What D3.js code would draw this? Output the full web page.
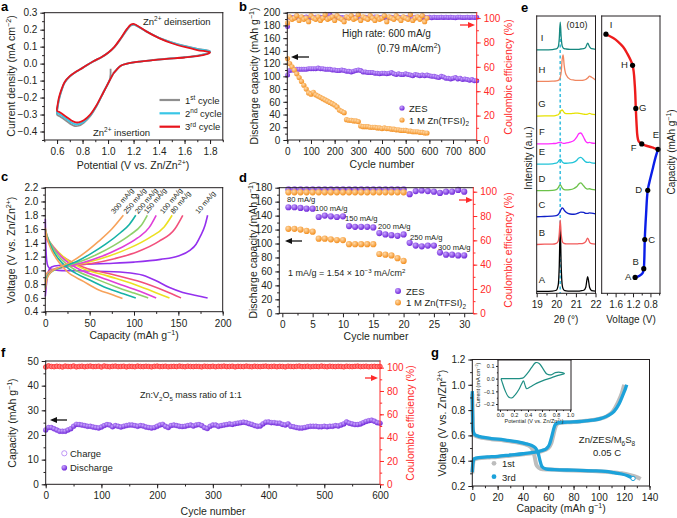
<!DOCTYPE html>
<html><head><meta charset="utf-8">
<script src="https://cdn.jsdelivr.net/npm/d3@7"></script>
<style>
body{margin:0;background:#fff}
svg{display:block;font-family:"Liberation Sans",Arial,Helvetica,sans-serif}
</style></head><body>
<svg id="fig" width="677" height="518"></svg>
<script>
// ================= DATA =================
// Panel a: CV cycles [potential V, current mA/cm2]
const cvCycle1 = [[1.02,-0.03],[1.015,-0.09],[0.963,-0.17],[0.91,-0.25],[0.86,-0.31],[0.81,-0.348],[0.77,-0.366],[0.74,-0.368],[0.715,-0.36],[0.663,-0.332],[0.624,-0.312],[0.6,-0.3],[0.605,-0.26],[0.615,-0.215],[0.635,-0.16],[0.66,-0.112],[0.7,-0.076],[0.75,-0.048],[0.8,-0.026],[0.885,0.013],[0.95,0.038],[1.0,0.063],[1.05,0.097],[1.1,0.146],[1.15,0.2],[1.18,0.224],[1.2,0.228],[1.23,0.22],[1.3,0.19],[1.4,0.152],[1.5,0.125],[1.6,0.104],[1.7,0.087],[1.8,0.072],[1.79,0.064],[1.72,0.05],[1.6,0.038],[1.46,0.029],[1.35,0.021],[1.25,0.012],[1.15,0.0],[1.1,-0.012],[1.068,-0.035],[1.04,-0.058]];
const cvCycle2 = [[1.04,-0.06],[1.015,-0.095],[0.963,-0.17],[0.91,-0.248],[0.86,-0.305],[0.81,-0.342],[0.77,-0.356],[0.74,-0.356],[0.715,-0.348],[0.663,-0.32],[0.624,-0.3],[0.6,-0.29],[0.605,-0.25],[0.615,-0.21],[0.635,-0.157],[0.66,-0.11],[0.7,-0.075],[0.75,-0.048],[0.8,-0.025],[0.885,0.014],[0.95,0.039],[1.0,0.064],[1.05,0.098],[1.1,0.148],[1.15,0.203],[1.18,0.227],[1.2,0.231],[1.23,0.221],[1.3,0.19],[1.4,0.152],[1.5,0.124],[1.6,0.103],[1.7,0.086],[1.8,0.07],[1.79,0.063],[1.72,0.049],[1.6,0.037],[1.46,0.028],[1.35,0.02],[1.25,0.012],[1.15,0.0],[1.1,-0.012],[1.068,-0.035],[1.04,-0.06]];
const cvCycle3 = [[1.04,-0.06],[1.015,-0.095],[0.963,-0.17],[0.91,-0.245],[0.86,-0.3],[0.81,-0.333],[0.77,-0.346],[0.74,-0.345],[0.715,-0.336],[0.663,-0.308],[0.624,-0.288],[0.6,-0.278],[0.605,-0.24],[0.615,-0.2],[0.635,-0.152],[0.66,-0.108],[0.7,-0.074],[0.75,-0.047],[0.8,-0.025],[0.885,0.014],[0.95,0.039],[1.0,0.064],[1.05,0.099],[1.1,0.15],[1.15,0.206],[1.18,0.23],[1.2,0.234],[1.23,0.223],[1.3,0.19],[1.4,0.15],[1.5,0.12],[1.6,0.098],[1.7,0.08],[1.8,0.066],[1.79,0.06],[1.72,0.047],[1.6,0.036],[1.46,0.028],[1.35,0.02],[1.25,0.012],[1.15,0.0],[1.1,-0.012],[1.068,-0.035],[1.04,-0.06]];
const cvLabels = ['1st cycle','2nd cycle','3rd cycle'];

// Panel b: long cycling at 600 mA/g
const bZesCycles = [1].concat(d3.range(10, 801, 10));
const bZesCap = [102,109,110,110,111,111,111,111,111,112, 112,112,112,113,112,112,111,111,111,110, 110,109,109,110,109,108,108,107,108,109, 110,109,107,107,106,106,106,105,105,104, 105,105,104,105,106,104,103,104,103,103, 104,103,102,101,103,102,101,102,101,102, 101,100,100,99,98,100,99,97,97,96, 97,98,96,97,95,96,95,94,95,93, 93];
const bZesCE = [93,100.6,100.4,100.7,100.5,100.3,100.6,100.5,100.8,100.4, 100.6,100.5,100.7,100.3,100.6,100.5,100.4,100.6,102.8,100.5, 100.7,100.4,100.6,100.5,100.3,100.6,100.7,100.5,100.4,100.6, 100.5,100.7,100.3,100.6,100.5,100.4,100.6,100.8,100.5,100.4, 100.6,100.5,100.7,100.3,100.6,100.5,100.4,100.6,100.5,100.7, 100.4,100.6,100.5,100.3,100.6,100.7,100.5,100.4,100.6,100.5, 100.7,100.3,100.6,100.5,100.4,100.6,100.5,100.7,100.4,100.6, 100.5,100.3,100.6,100.7,100.5,100.4,100.6,100.5,100.7,100.4, 100.6];
const bTfsiCycles = [1].concat(d3.range(10, 591, 10));
const bTfsiCap = [128,120,115,110,104,98,92,86,80,74, 72,75,71,69,67,65,63,61,59,57, 55,52,47,45,43,32,31,31,30,30, 29,22,21,21,21,20,20,20,19,19, 18,19,18,18,17,17,16,16,15,15, 15,14,14,13,13,13,12,12,11,11];
const bTfsiCE = [96,101,99,100,102,98,101,99,100,97, 102,100,99,101,98,100,103,99,100,101, 98,102,100,99,97,101,100,102,99,100, 103,98,101,100,99,102,100,98,101,99, 100,102,97,101,100,99,102,100,98,101, 100,99,103,98,100,101,99,102,97,100];

// Panel c: rate charge/discharge curves [capacity, voltage]
const cRates = ['10 mA/g','80 mA/g','100 mA/g','150 mA/g','200 mA/g','250 mA/g','300 mA/g'];
const cCharge = [
 [[0,0.62],[1,0.76],[2,0.88],[4,1.0],[7,1.05],[15,1.07],[40,1.085],[70,1.1],[100,1.12],[130,1.16],[150,1.21],[163,1.29],[170,1.38],[175,1.5],[180,1.65],[183,1.8]],
 [[0,0.85],[2,0.96],[10,1.02],[28,1.06],[52,1.1],[78,1.17],[104,1.27],[128,1.42],[146,1.6],[155,1.8]],
 [[0,0.83],[2,0.95],[9,1.01],[25,1.06],[48,1.12],[72,1.21],[96,1.33],[118,1.48],[134,1.63],[143,1.8]],
 [[0,0.8],[2,0.93],[8,1.0],[22,1.05],[42,1.11],[63,1.2],[84,1.32],[104,1.47],[117,1.62],[125,1.8]],
 [[0,0.78],[2,0.92],[8,0.99],[20,1.05],[38,1.12],[58,1.23],[77,1.36],[96,1.52],[108,1.65],[115,1.8]],
 [[0,0.75],[2,0.9],[7,0.98],[17,1.04],[34,1.12],[51,1.24],[68,1.38],[85,1.55],[95,1.67],[102,1.8]],
 [[0,0.72],[2,0.88],[6,0.97],[15,1.04],[30,1.13],[45,1.26],[60,1.42],[75,1.6],[88,1.8]]
];
const cDischarge = [
 [[0,1.75],[0.5,1.4],[1.5,1.15],[3,1.06],[6,1.02],[15,1.0],[50,0.99],[90,0.97],[110,0.93],[125,0.85],[140,0.75],[155,0.68],[170,0.635],[183,0.6]],
 [[0,1.5],[3,1.42],[11,1.3],[22,1.18],[44,1.04],[76,0.94],[108,0.83],[135,0.7],[153,0.6]],
 [[0,1.52],[3,1.45],[10,1.33],[20,1.2],[40,1.04],[70,0.92],[100,0.8],[124,0.68],[140,0.6]],
 [[0,1.55],[2,1.48],[9,1.34],[18,1.2],[36,1.03],[62,0.9],[88,0.78],[110,0.68],[125,0.6]],
 [[0,1.58],[2,1.5],[8,1.34],[16,1.19],[32,1.02],[56,0.88],[80,0.76],[100,0.67],[116,0.6]],
 [[0,1.6],[2,1.5],[7,1.33],[14,1.18],[28,1.01],[50,0.86],[70,0.74],[88,0.66],[102,0.6]],
 [[0,1.62],[2,1.48],[6,1.32],[12,1.18],[24,0.99],[43,0.84],[61,0.71],[75,0.65],[87,0.59]]
];

// Panel d: rate capability
const dZesCycles = d3.range(1, 31);
const dZesCap = [152,152,151,150,150,138,140,139,138,139,125,124,124,124,123,115,113,112,111,113,101,97,96,97,97,87,84,84,83,83];
const dZesCE = [102,102,102,102,102,102,102,102,102,102,102,102,102,102,102,102,102,102,102,102,98,100.5,101,100.5,100,99,100,100,101.5,100];
const dTfsiCycles = d3.range(1, 21);
const dTfsiCap = [121,121,120,118,117,107,107,106,105,105,99,99,99,99,99,85,84,83,79,75];
const dTfsiCE = [99.5,99.5,99.5,99.5,99.5,99.5,99.5,99.5,99.5,99.5,99.5,99.5,99.5,99.5,99.5,99.5,99.5,99.5,99.5,99.5];
const dRateLabels = ['80 mA/g','100 mA/g','150 mA/g','200 mA/g','250 mA/g','300 mA/g'];

// Panel e: in-situ XRD patterns (2theta grid, intensities, stacking offsets)
const xrdTheta = [19.0,19.4,19.8,20.0,20.1,20.15,20.2,20.25,20.3,20.35,20.4,20.5,20.7,20.9,21.05,21.15,21.25,21.4,21.5,21.6,21.7,21.8,22.0];
const xrdLabels = ['A','B','C','D','E','F','G','H','I'];
const xrdOffsets = [0.6,17.4,27.6,36.9,46.5,53.8,63.9,76.3,87.7];
const xrdIntensity = [
 [0.1,0.1,0.2,0.5,2.5,9,23,9,2.5,1.0,0.5,0.3,0.2,0.2,0.2,0.2,0.3,0.5,1.5,5.4,1.5,0.4,0.2],
 [0.2,0.3,0.3,0.6,1.5,4.0,9.0,4.0,1.5,0.8,0.6,0.4,0.4,0.4,0.4,0.5,0.5,0.7,1.2,2.5,1.0,0.5,0.3],
 [0.0,0.1,0.2,0.4,0.8,1.3,2.0,2.7,3.2,3.0,2.4,1.6,1.0,0.9,1.1,1.4,1.7,1.6,1.2,1.2,1.4,1.3,1.0],
 [0.1,0.1,0.2,0.5,1.2,1.8,2.2,1.8,1.1,0.7,0.5,0.4,0.5,0.9,1.6,2.5,2.9,1.8,1.0,0.7,0.8,0.6,0.4],
 [0.1,0.1,0.2,0.4,1.0,1.5,1.8,1.5,0.9,0.6,0.4,0.4,0.5,0.8,1.5,2.3,2.5,1.6,0.9,0.7,0.8,0.5,0.4],
 [0.1,0.1,0.2,0.3,0.5,0.6,0.7,0.6,0.4,0.3,0.3,0.4,0.7,1.3,2.6,3.8,4.0,2.4,1.0,0.5,0.6,0.4,0.3],
 [0.0,0.1,0.1,0.3,0.5,0.9,1.5,2.0,2.2,1.8,1.3,0.9,0.9,1.0,1.1,1.0,0.9,0.7,0.6,0.7,1.0,0.7,0.5],
 [0.1,0.1,0.2,0.3,0.5,0.8,1.5,3.5,8.0,9.7,6.0,2.5,0.9,0.6,0.5,0.5,0.5,0.6,0.8,1.3,2.0,1.6,0.6],
 [0.1,0.1,0.2,0.4,1.2,4.0,10.1,4.5,1.5,0.8,0.5,0.4,0.3,0.3,0.3,0.3,0.4,0.5,1.0,2.5,1.2,0.5,0.3]
];
// Panel e right: voltage profile [V, capacity]
const eCharge = [[1.152,3],[1.05,5],[0.98,8],[0.953,13],[0.94,25],[0.93,46],[0.9,75],[0.862,102],[0.8,116],[0.74,128],[0.68,140],[0.626,148.6]];
const eDischarge = [[0.626,148.6],[0.72,150],[0.816,151.5],[0.92,153],[0.999,154.7],[1.07,157.5],[1.1,164],[1.115,174],[1.136,195],[1.159,221],[1.211,244],[1.34,258],[1.43,265],[1.547,271],[1.655,275],[1.822,279.3]];
const ePoints = [[1.152,3],[0.953,13],[0.93,46],[0.862,102],[0.626,148.6],[0.999,154.7],[1.136,195],[1.211,244],[1.822,279.3]];

// Panel f: full cell cycling
const fCycles = d3.range(0, 601, 5);
const fDischargeCap = [22,23,23,22.5,22,21.5,21.5,21.5,22,22.5, 23.5,24.3,24.2,24,23.8,23.5,23.5,23.2,23,22.8, 23.2,23.8,24.2,24,23.3,23.8,23.5,23.2,23.5,23.8, 24,24,23.8,23.5,23.8,23.6,23.2,23,22.8,23, 23.5,24,24.3,23.5,23,23.8,24,23.8,23.5,23.4, 23.5,23.8,24,23.6,24,24.2,23.8,23,22.6,23.5, 24,24,23.5,23.8,24,24.2,24.5,24.3,24.6,24.8, 25,25.2,25,24.6,24.3,23.8,23.5,23.6,24.5,25.2, 25.3,25,25,24.8,24.8,24.3,24,24.5,23.5,23.3, 23,22.8,22.8,23,23.3,23.5,23.5,23.5,23.3,23.3, 23.5,23.3,23.5,23.5,23.8,23.6,24,24.5,25.3,24.8, 24.5,24.2,24.2,24.5,25,25.5,25.8,26,25.6,25, 24.8];
const fChargeCap = fDischargeCap;
const fCE = [100.5,101.5,101,100.8,101.2,101,100.6,101.3,101,100.9, 101.4,100.7,101,101.2,100.8,101.1,101.3,100.9,101,101.2, 100.6,101.4,101,100.8,101.1,101.3,100.9,101,101.2,100.7, 101.1,101,100.8,101.3,101,100.9,101.2,101,100.7,101.1, 101.3,100.9,101,101.2,100.8,101,101.1,100.9,101.3,101, 100.8,101.2,101,100.9,101.1,101,100.7,101.2,101,100.9, 101.2,100.8,101.1,101,101.3,100.9,101,101.2,100.7,101.1, 101,100.9,101.3,101,100.8,101.2,101,100.9,101.1,101.3, 100.9,101,101.2,100.8,101.1,101,100.7,101.2,101,100.9, 101.1,101.3,100.9,101,101.2,100.8,101,101.1,100.9,101.3, 101,100.8,101.2,101,100.9,101.1,101,100.7,101.2,101, 100.9,101.1,101.3,100.9,101,101.2,100.8,101,101.1,100.9, 101];

// Panel g: Zn/ZES/M6S8 profiles [capacity, V]
const g1Charge = [[0,0.3],[0.5,0.37],[1.5,0.41],[5,0.42],[12,0.425],[20,0.43],[30,0.44],[40,0.45],[48,0.46],[55,0.475],[60,0.5],[62.5,0.54],[64,0.6],[65.5,0.66],[67,0.69],[70,0.7],[80,0.705],[90,0.715],[100,0.73],[106,0.75],[111,0.79],[115,0.86],[118,0.93],[120,1.0]];
const g1Discharge = [[0,0.93],[0.3,0.74],[0.8,0.625],[2,0.6],[6,0.585],[15,0.57],[25,0.56],[35,0.545],[42,0.53],[46,0.51],[48,0.48],[49.5,0.42],[51,0.36],[54,0.335],[62,0.33],[80,0.322],[95,0.318],[108,0.31],[118,0.3],[125,0.285],[130,0.27],[133,0.255]];
const g3Charge = [[0,0.31],[0.5,0.38],[1.5,0.415],[5,0.425],[12,0.43],[20,0.435],[30,0.445],[40,0.455],[48,0.465],[55,0.48],[59,0.5],[61,0.53],[62.5,0.58],[64,0.64],[65.5,0.685],[68,0.7],[75,0.705],[85,0.71],[95,0.72],[102,0.735],[108,0.76],[112,0.79],[116,0.85],[119,0.92],[121,0.97],[122,1.0]];
const g3Discharge = [[0,0.95],[0.3,0.75],[0.8,0.63],[2,0.605],[6,0.59],[15,0.575],[25,0.565],[35,0.55],[42,0.535],[47,0.52],[50,0.5],[52,0.46],[53.5,0.4],[55,0.355],[58,0.335],[65,0.33],[80,0.325],[95,0.32],[105,0.315],[112,0.305],[118,0.295],[123,0.28],[127,0.26]];
const gInsetCV = [[0.014,0],[0.1,0],[0.21,0.0],[0.3,0.002],[0.34,0.01],[0.4,0.047],[0.45,0.087],[0.51,0.126],[0.56,0.12],[0.62,0.073],[0.67,0.036],[0.73,0.03],[0.79,0.047],[0.86,0.05],[0.92,0.039],[0.83,0.026],[0.74,0.008],[0.64,-0.01],[0.52,-0.037],[0.43,-0.066],[0.38,-0.079],[0.36,-0.055],[0.335,-0.018],[0.31,-0.04],[0.27,-0.085],[0.22,-0.125],[0.17,-0.152],[0.12,-0.142],[0.07,-0.09],[0.03,-0.025],[0.014,0]];

// ================= DRAWING =================
const svg = d3.select('#fig');
const TXT = '#231f20';
const RED = '#ff2a2a';
const defs = svg.append('defs');
function ball(id, light, dark) {
  const rg = defs.append('radialGradient').attr('id', id).attr('cx', '38%').attr('cy', '35%').attr('r', '70%');
  rg.append('stop').attr('offset', '0%').attr('stop-color', light);
  rg.append('stop').attr('offset', '100%').attr('stop-color', dark);
}
ball('gPurple', '#c9a6ff', '#6a1fd6');
ball('gOrange', '#ffd9a8', '#f28a16');

function addAxis(g, scale, orient, at, major, minor, opt = {}) {
  const color = opt.color || TXT, fs = opt.fs || 10, size = opt.size ?? 4, pad = opt.pad ?? 3;
  const fmt = opt.fmt || (d => d);
  const mk = orient === 'bottom' ? d3.axisBottom : orient === 'left' ? d3.axisLeft : d3.axisRight;
  const tr = orient === 'bottom' ? `translate(0,${at})` : `translate(${at},0)`;
  if (minor && minor.length) {
    const m = g.append('g').attr('transform', tr)
      .call(mk(scale).tickValues(minor).tickSize(size * 0.55).tickSizeOuter(0).tickFormat(''));
    m.select('.domain').remove();
    m.selectAll('line').attr('stroke', color);
    m.selectAll('text').remove();
  }
  const a = g.append('g').attr('transform', tr)
    .call(mk(scale).tickValues(major).tickSize(size).tickSizeOuter(0).tickPadding(pad).tickFormat(fmt));
  a.attr('font-family', null).attr('font-size', null);
  a.select('.domain').remove();
  a.selectAll('line').attr('stroke', color);
  a.selectAll('text').attr('fill', color).style('font-size', fs + 'px');
  return a;
}
function frame(g, xs, ys, rightColor) {
  const [x0, x1] = xs.range(), [y0, y1] = ys.range();
  const L = (a, b, c, d, col) => g.append('line').attr('x1', a).attr('y1', b).attr('x2', c).attr('y2', d)
    .attr('stroke', col).attr('stroke-width', 1).attr('stroke-linecap', 'square');
  L(x0, y0, x1, y0, TXT); L(x0, y1, x1, y1, TXT); L(x0, y0, x0, y1, TXT); L(x1, y0, x1, y1, rightColor || TXT);
}
function rich(parent, x, y, parts, opt = {}) {
  const fs = opt.size || 10;
  const t = parent.append('text').attr('x', x).attr('y', y)
    .attr('font-size', fs).attr('text-anchor', opt.anchor || 'start').attr('fill', opt.color || TXT);
  if (opt.rotate) t.attr('transform', `rotate(${opt.rotate},${x},${y})`);
  let cur = 0;
  parts.forEach(p => {
    const [s, kind] = Array.isArray(p) ? p : [p, 'n'];
    const target = kind === 'sup' ? -0.38 * fs : kind === 'sub' ? 0.28 * fs : 0;
    const ts = t.append('tspan').text(s).attr('dy', target - cur);
    if (kind !== 'n') ts.attr('font-size', fs * 0.68);
    cur = target;
  });
  return t;
}
function arrow(g, x1, x2, y, color) {
  const dir = Math.sign(x2 - x1);
  g.append('line').attr('x1', x1).attr('x2', x2 - dir * 5).attr('y1', y).attr('y2', y)
    .attr('stroke', color).attr('stroke-width', 1.3);
  g.append('path').attr('d', `M${x2},${y}L${x2 - dir * 7},${y - 3}L${x2 - dir * 7},${y + 3}Z`).attr('fill', color);
}
function label(txt, x, y) {
  svg.append('text').attr('x', x).attr('y', y).attr('font-size', 13).attr('font-weight', 'bold').attr('fill', '#000').text(txt);
}
const f1 = d3.format('.1f');
const range = (a, b, s) => d3.range(a, b + s / 2, s).map(v => +v.toFixed(4));

// ---------- Panel a ----------
{
  const g = svg.append('g');
  const x = d3.scaleLinear().domain([0.5, 1.9]).range([44.3, 222.8]);
  const y = d3.scaleLinear().domain([-0.45, 0.3]).range([140, 12.7]);
  const line = d3.line().x(d => x(d[0])).y(d => y(d[1])).curve(d3.curveCatmullRom.alpha(0.5));
  const cols = ['#8f8f8f', '#39c6e6', '#e8141c'];
  [cvCycle1, cvCycle2, cvCycle3].forEach((c, i) =>
    g.append('path').attr('d', line(c)).attr('fill', 'none').attr('stroke', cols[i]).attr('stroke-width', 1.8));
  frame(g, x, y);
  addAxis(g, x, 'bottom', 140, range(0.6, 1.8, 0.2), range(0.5, 1.9, 0.1), { fmt: f1, pad: 4 });
  addAxis(g, y, 'left', 44.3, range(-0.4, 0.3, 0.1), range(-0.45, 0.3, 0.05), { fmt: f1 });
  rich(g, 15, 76, ['Current density (mA cm', ['−2', 'sup'], ')'], { anchor: 'middle', rotate: -90, size: 10.5 });
  rich(g, 133, 169, ['Potential (V vs. Zn/Zn', ['2+', 'sup'], ')'], { anchor: 'middle', size: 10.5 });
  rich(g, 143, 25, ['Zn', ['2+', 'sup'], ' deinsertion'], { size: 9.5 });
  rich(g, 93, 136, ['Zn', ['2+', 'sup'], ' insertion'], { size: 9.5 });
  const sups = [['1', 'st'], ['2', 'nd'], ['3', 'rd']];
  [100, 113.3, 126.7].forEach((yy, i) => {
    g.append('line').attr('x1', 159.5).attr('x2', 180).attr('y1', yy).attr('y2', yy).attr('stroke', cols[i]).attr('stroke-width', 2.2);
    rich(g, 185, yy + 3.5, [sups[i][0], [sups[i][1], 'sup'], ' cycle'], { size: 9.5 });
  });
  label('a', 1, 11);
}

// ---------- Panel b ----------
{
  const g = svg.append('g');
  const x = d3.scaleLinear().domain([0, 800]).range([287.3, 476.7]);
  const y = d3.scaleLinear().domain([0, 200]).range([140, 12.7]);
  const y2 = d3.scaleLinear().domain([0, 104.4]).range([140, 12.7]);
  const dots = (xs, ys, sc, fill, r) => xs.forEach((c, i) =>
    g.append('circle').attr('cx', x(c)).attr('cy', sc(ys[i])).attr('r', r).attr('fill', fill));
  dots(bZesCycles, bZesCap, y, 'url(#gPurple)', 2.5);
  dots(bZesCycles, bZesCE, y2, 'url(#gPurple)', 2.5);
  dots(bTfsiCycles, bTfsiCap, y, 'url(#gOrange)', 2.6);
  dots(bTfsiCycles, bTfsiCE, y2, 'url(#gOrange)', 2.6);
  frame(g, x, y, RED);
  addAxis(g, x, 'bottom', 140, range(0, 800, 100), range(0, 800, 50), { pad: 4 });
  addAxis(g, y, 'left', 287.3, range(0, 200, 20), range(0, 200, 10));
  addAxis(g, y2, 'right', 476.7, range(0, 100, 20), range(0, 100, 10), { color: RED });
  rich(g, 258, 76, ['Discharge capacity (mAh g', ['−1', 'sup'], ')'], { anchor: 'middle', rotate: -90, size: 10.5 });
  rich(g, 512, 77, ['Coulombic efficiency (%)'], { anchor: 'middle', rotate: -90, size: 10.5, color: RED });
  rich(g, 382, 168, ['Cycle number'], { anchor: 'middle', size: 10.5 });
  rich(g, 342, 37, ['High rate: 600 mA/g'], { size: 10 });
  rich(g, 377, 52, ['(0.79 mA/cm', ['2', 'sup'], ')'], { size: 10 });
  arrow(g, 309, 291, 57, '#111');
  arrow(g, 460, 475, 25, RED);
  g.append('circle').attr('cx', 402).attr('cy', 108).attr('r', 2.6).attr('fill', 'url(#gPurple)');
  g.append('circle').attr('cx', 402).attr('cy', 120).attr('r', 2.6).attr('fill', 'url(#gOrange)');
  rich(g, 409, 111.5, ['ZES'], { size: 9.5 });
  rich(g, 409, 123.5, ['1 M Zn(TFSI)', ['2', 'sub']], { size: 9.5 });
  label('b', 239, 11);
}

// ---------- Panel c ----------
{
  const g = svg.append('g');
  const x = d3.scaleLinear().domain([0, 200]).range([45.3, 222.7]);
  const y = d3.scaleLinear().domain([0.4, 2.2]).range([311.7, 187.7]);
  const cols = ['#9430ee', '#f2507c', '#ece021', '#e03fd8', '#8fd06a', '#16b2a6', '#f7a25a'];
  const line = d3.line().x(d => x(d[0])).y(d => y(d[1])).curve(d3.curveMonotoneX);
  cRates.forEach((r, i) => {
    g.append('path').attr('d', line(cDischarge[i])).attr('fill', 'none').attr('stroke', cols[i]).attr('stroke-width', 1.6);
    g.append('path').attr('d', line(cCharge[i])).attr('fill', 'none').attr('stroke', cols[i]).attr('stroke-width', 1.6);
    const end = cCharge[i][cCharge[i].length - 1];
    const lx = x(end[0]) - 9, ly = y(end[1]) - 1;
    g.append('text').attr('x', lx).attr('y', ly).attr('font-size', 7.2).attr('fill', TXT)
      .attr('transform', `rotate(-50,${lx},${ly})`).text(r);
  });
  frame(g, x, y);
  addAxis(g, x, 'bottom', 311.7, range(0, 200, 50), range(0, 200, 25), { pad: 4 });
  addAxis(g, y, 'left', 45.3, range(0.4, 2.2, 0.2), range(0.4, 2.2, 0.1), { fmt: f1 });
  rich(g, 15, 250, ['Voltage (V vs. Zn/Zn', ['2+', 'sup'], ')'], { anchor: 'middle', rotate: -90, size: 10.5 });
  rich(g, 134, 339, ['Capacity (mAh g', ['−1', 'sup'], ')'], { anchor: 'middle', size: 10.5 });
  label('c', 1, 181);
}

// ---------- Panel d ----------
{
  const g = svg.append('g');
  const x = d3.scaleLinear().domain([-0.5, 31.5]).range([279.3, 473.3]);
  const y = d3.scaleLinear().domain([0, 180]).range([313.3, 187.7]);
  const y2 = d3.scaleLinear().domain([0, 103.3]).range([313.3, 187.7]);
  const dots = (xs, ys, sc, fill) => xs.forEach((c, i) =>
    g.append('circle').attr('cx', x(c)).attr('cy', sc(ys[i])).attr('r', 3.1).attr('fill', fill));
  dots(dZesCycles, dZesCap, y, 'url(#gPurple)');
  dots(dZesCycles, dZesCE, y2, 'url(#gPurple)');
  dots(dTfsiCycles, dTfsiCap, y, 'url(#gOrange)');
  dots(dTfsiCycles, dTfsiCE, y2, 'url(#gOrange)');
  frame(g, x, y, RED);
  addAxis(g, x, 'bottom', 313.3, range(0, 30, 5), range(2.5, 30, 5), { pad: 4 });
  addAxis(g, y, 'left', 279.3, range(0, 180, 20), range(0, 180, 10));
  addAxis(g, y2, 'right', 473.3, range(0, 100, 20), range(0, 100, 10), { color: RED });
  rich(g, 257, 250, ['Discharge capacity (mAh g', ['−1', 'sup'], ')'], { anchor: 'middle', rotate: -90, size: 10.5 });
  rich(g, 512, 250, ['Coulombic efficiency (%)'], { anchor: 'middle', rotate: -90, size: 10.5, color: RED });
  rich(g, 376, 340, ['Cycle number'], { anchor: 'middle', size: 10.5 });
  const lp = [[287, 202], [315, 211], [345, 221], [378, 229], [410, 240], [438, 250]];
  dRateLabels.forEach((t, i) => rich(g, lp[i][0], lp[i][1], [t], { size: 7.6 }));
  rich(g, 288, 276, ['1 mA/g = 1.54 × 10', ['−3', 'sup'], ' mA/cm', ['2', 'sup']], { size: 9 });
  arrow(g, 302, 285, 241, '#111');
  arrow(g, 459, 473, 200, RED);
  g.append('circle').attr('cx', 398).attr('cy', 291).attr('r', 3).attr('fill', 'url(#gPurple)');
  g.append('circle').attr('cx', 398).attr('cy', 302.5).attr('r', 3).attr('fill', 'url(#gOrange)');
  rich(g, 406, 294.5, ['ZES'], { size: 9.5 });
  rich(g, 406, 306, ['1 M Zn(TFSI)', ['2', 'sub']], { size: 9.5 });
  label('d', 239, 182);
}

// ---------- Panel e ----------
{
  const g = svg.append('g');
  const x = d3.scaleLinear().domain([19, 22]).range([536.7, 595.5]);
  const y = d3.scaleLinear().domain([0, 100]).range([293.3, 16]);
  const cols = ['#000000', '#f25a5a', '#1020c8', '#6cc24a', '#22c4d8', '#ff2cff', '#e6e200', '#f08660', '#15887f'];
  g.append('line').attr('x1', x(20.2)).attr('x2', x(20.2)).attr('y1', 28).attr('y2', 293)
    .attr('stroke', '#3fc0e0').attr('stroke-width', 1.6).attr('stroke-dasharray', '3,2.5');
  xrdIntensity.forEach((arr, i) => {
    const pts = xrdTheta.map((t, j) => [t, arr[j] + xrdOffsets[i]]);
    const line = d3.line().x(d => x(d[0])).y(d => y(d[1])).curve(d3.curveMonotoneX);
    g.append('path').attr('d', line(pts)).attr('fill', 'none').attr('stroke', cols[i]).attr('stroke-width', 1.3);
    g.append('text').attr('x', 542).attr('y', y(xrdOffsets[i]) - 9).attr('text-anchor', 'middle')
      .attr('font-size', 9.5).attr('fill', TXT).text(xrdLabels[i]);
  });
  frame(g, x, y);
  addAxis(g, x, 'bottom', 293.3, [19, 20, 21, 22], [19.5, 20.5, 21.5], { pad: 4 });
  rich(g, 577, 28, ['(010)'], { size: 9, anchor: 'middle' });
  rich(g, 532, 158, ['Intensity (a.u.)'], { anchor: 'middle', rotate: -90, size: 10 });
  rich(g, 566, 323, ['2θ (°)'], { anchor: 'middle', size: 10 });

  const x2 = d3.scaleLinear().domain([1.92, 0.58]).range([601.7, 660]);
  const yc = d3.scaleLinear().domain([-15, 300]).range([293.3, 16]);
  const line2 = d3.line().x(d => x2(d[0])).y(d => yc(d[1])).curve(d3.curveCatmullRom.alpha(0.5));
  g.append('path').attr('d', line2(eCharge)).attr('fill', 'none').attr('stroke', '#0a1ee8').attr('stroke-width', 2.4);
  g.append('path').attr('d', line2(eDischarge)).attr('fill', 'none').attr('stroke', '#ee1c1c').attr('stroke-width', 2.4);
  const loff = [[-7, 3], [-8, -4], [7, 3], [-9, 3], [-2, -11], [-8, 7], [7, 3], [-8, 3], [5, -6]];
  ePoints.forEach((p, i) => {
    g.append('circle').attr('cx', x2(p[0])).attr('cy', yc(p[1])).attr('r', 2.6).attr('fill', '#000');
    g.append('text').attr('x', x2(p[0]) + loff[i][0]).attr('y', yc(p[1]) + loff[i][1]).attr('text-anchor', 'middle')
      .attr('font-size', 9.5).attr('fill', TXT).text(xrdLabels[i]);
  });
  frame(g, x2, yc);
  addAxis(g, x2, 'bottom', 293.3, [1.6, 1.2, 0.8], [1.8, 1.4, 1.0, 0.6], { pad: 4, fmt: f1 });
  rich(g, 631, 323, ['Voltage (V)'], { anchor: 'middle', size: 10 });
  rich(g, 675, 152, ['Capacity (mAh g', ['−1', 'sup'], ')'], { anchor: 'middle', rotate: -90, size: 10 });
  label('e', 521, 12);
}

// ---------- Panel f ----------
{
  const g = svg.append('g');
  const x = d3.scaleLinear().domain([0, 600]).range([45.7, 380]);
  const y = d3.scaleLinear().domain([0, 50]).range([484.3, 361]);
  const y2 = d3.scaleLinear().domain([0, 105.7]).range([484.3, 361]);
  fCycles.forEach((c, i) => g.append('circle').attr('cx', x(c)).attr('cy', y2(fCE[i])).attr('r', 2.3)
    .attr('fill', '#ff7a7a').attr('stroke', RED).attr('stroke-width', 0.8));
  fCycles.forEach((c, i) => g.append('circle').attr('cx', x(c)).attr('cy', y(fChargeCap[i])).attr('r', 2.4)
    .attr('fill', '#fff').attr('stroke', '#b88af5').attr('stroke-width', 0.8));
  fCycles.forEach((c, i) => g.append('circle').attr('cx', x(c)).attr('cy', y(fDischargeCap[i])).attr('r', 2.5)
    .attr('fill', 'url(#gPurple)'));
  frame(g, x, y, RED);
  addAxis(g, x, 'bottom', 484.3, range(0, 600, 100), range(0, 600, 50), { pad: 4 });
  addAxis(g, y, 'left', 45.7, range(0, 50, 10), range(0, 50, 5));
  addAxis(g, y2, 'right', 380, range(0, 100, 20), range(0, 100, 10), { color: RED });
  rich(g, 16, 423, ['Capacity (mAh g', ['−1', 'sup'], ')'], { anchor: 'middle', rotate: -90, size: 10.5 });
  rich(g, 414, 423, ['Coulombic efficiency (%)'], { anchor: 'middle', rotate: -90, size: 10.5, color: RED });
  rich(g, 213, 515, ['Cycle number'], { anchor: 'middle', size: 10.5 });
  rich(g, 140, 398, ['Zn:V', ['2', 'sub'], 'O', ['5', 'sub'], ' mass ratio of 1:1'], { size: 9 });
  arrow(g, 67, 50, 420, '#111');
  arrow(g, 365, 378, 378, RED);
  g.append('circle').attr('cx', 64.3).attr('cy', 453.3).attr('r', 2.6).attr('fill', '#fff').attr('stroke', '#b88af5').attr('stroke-width', 0.9);
  g.append('circle').attr('cx', 64.3).attr('cy', 467.7).attr('r', 2.8).attr('fill', 'url(#gPurple)');
  rich(g, 70, 457, ['Charge'], { size: 9.5 });
  rich(g, 70, 471, ['Discharge'], { size: 9.5 });
  label('f', 1, 357);
}

// ---------- Panel g ----------
{
  const g = svg.append('g');
  const x = d3.scaleLinear().domain([0, 140]).range([472.3, 649.5]);
  const y = d3.scaleLinear().domain([0.2, 1.2]).range([486, 359.5]);
  const line = d3.line().x(d => x(d[0])).y(d => y(d[1])).curve(d3.curveMonotoneX);
  const lineC = d3.line().x(d => x(d[0])).y(d => y(d[1])).curve(d3.curveCatmullRom.alpha(0.5));
  const GRAY = '#bdbdbd', BLUE = '#1ca2da';
  g.append('path').attr('d', line(g1Charge)).attr('fill', 'none').attr('stroke', GRAY).attr('stroke-width', 4);
  g.append('path').attr('d', lineC(g1Discharge)).attr('fill', 'none').attr('stroke', GRAY).attr('stroke-width', 4);
  g.append('path').attr('d', line(g3Charge)).attr('fill', 'none').attr('stroke', BLUE).attr('stroke-width', 3.3);
  g.append('path').attr('d', lineC(g3Discharge)).attr('fill', 'none').attr('stroke', BLUE).attr('stroke-width', 3.3);
  const e3 = g3Discharge[g3Discharge.length - 1];
  g.append('circle').attr('cx', x(e3[0])).attr('cy', y(e3[1])).attr('r', 2.2).attr('fill', '#fff').attr('stroke', BLUE).attr('stroke-width', 1);
  frame(g, x, y);
  addAxis(g, x, 'bottom', 486, range(0, 140, 20), range(0, 140, 10), { pad: 4 });
  addAxis(g, y, 'left', 472.3, range(0.2, 1.2, 0.2), range(0.2, 1.2, 0.1), { fmt: f1 });
  rich(g, 446, 423, ['Voltage (V vs. Zn/Zn', ['2+', 'sup'], ')'], { anchor: 'middle', rotate: -90, size: 10.5 });
  rich(g, 561, 512, ['Capacity (mAh g', ['−1', 'sup'], ')'], { anchor: 'middle', size: 10.5 });
  rich(g, 607, 443, ['Zn/ZES/M', ['6', 'sub'], 'S', ['8', 'sub']], { anchor: 'middle', size: 9.5 });
  rich(g, 607, 456, ['0.05 C'], { anchor: 'middle', size: 9.5 });
  g.append('circle').attr('cx', 494).attr('cy', 463.3).attr('r', 2.4).attr('fill', GRAY);
  g.append('circle').attr('cx', 494).attr('cy', 476.7).attr('r', 2.4).attr('fill', BLUE);
  rich(g, 502, 467, ['1st'], { size: 9.5 });
  rich(g, 502, 480.5, ['3rd'], { size: 9.5 });
  // inset
  const ix = d3.scaleLinear().domain([-0.028, 1.014]).range([498, 571]);
  const iy = d3.scaleLinear().domain([-0.247, 0.147]).range([410, 360]);
  g.append('rect').attr('x', 498).attr('y', 360).attr('width', 73).attr('height', 50).attr('fill', '#fff');
  const iline = d3.line().x(d => ix(d[0])).y(d => iy(d[1])).curve(d3.curveCatmullRom.alpha(0.5));
  g.append('path').attr('d', iline(gInsetCV)).attr('fill', 'none').attr('stroke', '#1f8f84').attr('stroke-width', 1.2);
  frame(g, ix, iy);
  addAxis(g, ix, 'bottom', 410, range(0, 1, 0.2), range(0.1, 0.9, 0.2), { fmt: f1, fs: 5.5, size: 2, pad: 1.5 });
  addAxis(g, iy, 'left', 498, [-0.2, -0.1, 0, 0.1], [-0.15, -0.05, 0.05], { fmt: f1, fs: 5.5, size: 2, pad: 1.5 });
  rich(g, 480, 385, ['Current (mA cm', ['−2', 'sup'], ')'], { anchor: 'middle', rotate: -90, size: 5.5 });
  rich(g, 534, 423, ['Potential (V vs. Zn/Zn', ['2+', 'sup'], ')'], { anchor: 'middle', size: 5.5 });
  label('g', 431, 357);
}
</script>
</body></html>
